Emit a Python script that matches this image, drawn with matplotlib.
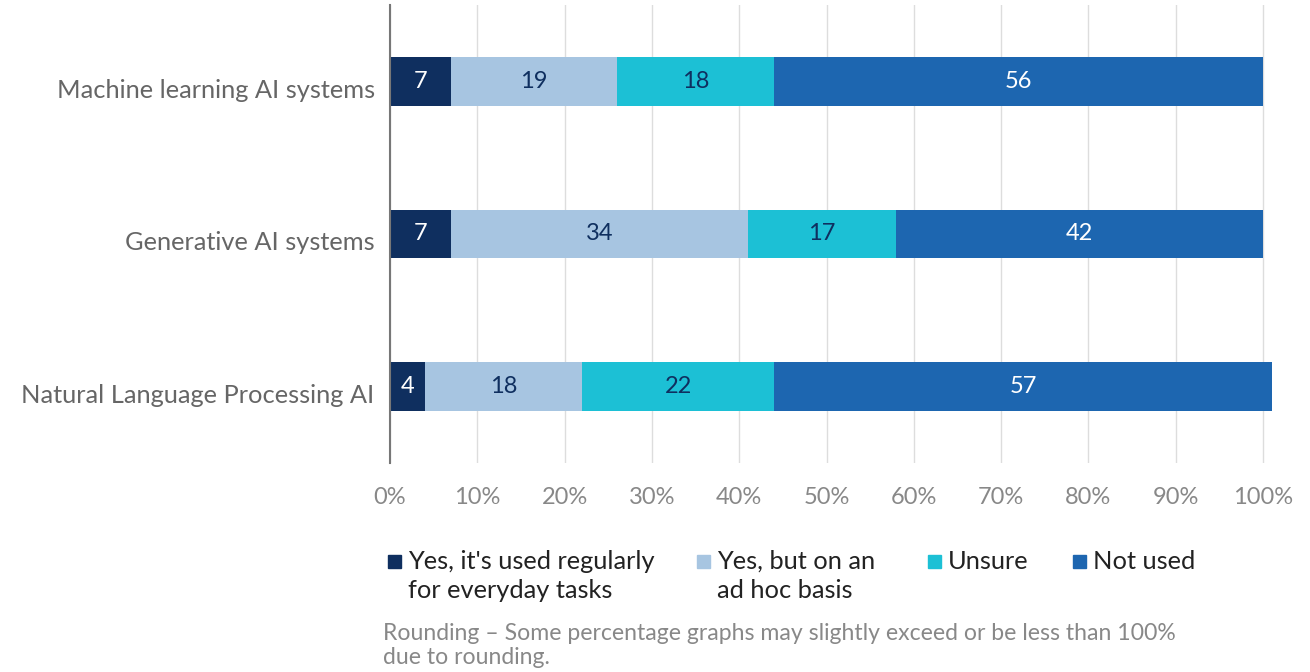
import matplotlib.pyplot as plt
from matplotlib.patches import Rectangle
from matplotlib.transforms import ScaledTranslation

plt.rcParams['font.family'] = ['Lato', 'DejaVu Sans']

categories = ['Machine learning AI systems', 'Generative AI systems', 'Natural Language Processing AI']
series = ["Yes, it's used regularly\nfor everyday tasks", 'Yes, but on an\nad hoc basis', 'Unsure', 'Not used']
values = [
    [7, 7, 4],
    [19, 34, 18],
    [18, 17, 22],
    [56, 42, 57],
]
colors = ['#0f2f5f', '#a7c5e1', '#1cc0d5', '#1d66b0']
text_colors = ['white', '#0f2f5f', '#0f2f5f', 'white']
ticks = list(range(0, 101, 10))

xmax = 102
fig = plt.figure(figsize=(13.1, 6.72), dpi=100)
ax = fig.add_axes([390 / 1310, 1 - 463 / 672, 8.73 * xmax / 1310, 458 / 672])

left = [0, 0, 0]
for vals, col, tcol in zip(values, colors, text_colors):
    bars = ax.barh(range(len(categories)), vals, left=left, height=0.32, color=col, zorder=3)
    for b, v in zip(bars, vals):
        ax.text(b.get_x() + b.get_width() / 2, b.get_y() + b.get_height() / 2, str(v),
                ha='center', va='center', color=tcol, fontsize=17, zorder=4)
    left = [l + v for l, v in zip(left, vals)]

ax.set_xlim(0, xmax)
ax.set_ylim(2.5, -0.5)
ax.set_yticks(range(len(categories)))
ax.set_yticklabels(categories, fontsize=18.3, color='#666666')
ax.set_xticks(ticks)
ax.set_xticklabels([f'{t}%' for t in ticks], fontsize=17, color='#888888')
ax.tick_params(axis='both', length=0)
ax.tick_params(axis='x', pad=17)
ax.tick_params(axis='y', pad=11)
# category names sit a little below the bar centres
shift = ScaledTranslation(0, -0.07, fig.dpi_scale_trans)
for lbl in ax.get_yticklabels():
    lbl.set_transform(lbl.get_transform() + shift)
ax.grid(axis='x', color='#dddddd', linewidth=1, zorder=0)
for s in ['top', 'right', 'bottom']:
    ax.spines[s].set_visible(False)
ax.spines['left'].set_color('#777777')
ax.spines['left'].set_linewidth(1.5)
ax.spines['left'].set_zorder(5)

# legend entries placed by hand so the square sits on the first line
legend_x = [388, 697, 928, 1073]
for x, lab, col in zip(legend_x, series, colors):
    fig.patches.append(Rectangle((x / 1310, 1 - 568 / 672), 13 / 1310, 13 / 672,
                                 transform=fig.transFigure, color=col))
    fig.text((x + 20) / 1310, 1 - 550 / 672, lab, fontsize=18.3, color='#222222',
             va='top', ha='left', linespacing=1.3)

fig.text(383 / 1310, 1 - 623 / 672,
         'Rounding \u2013 Some percentage graphs may slightly exceed or be less than 100%\ndue to rounding.',
         fontsize=16.6, color='#888888', va='top', ha='left', linespacing=1.2)

fig.savefig('out.png', dpi=100)
